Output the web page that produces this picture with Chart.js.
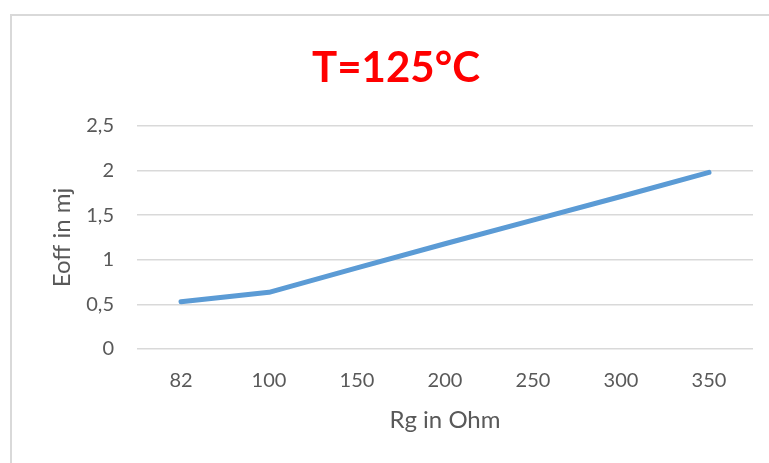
<!DOCTYPE html>
<html>
<head>
<meta charset="utf-8">
<script src="https://cdn.jsdelivr.net/npm/chart.js@4.4.1/dist/chart.umd.min.js"></script>
<style>
  html, body { margin: 0; padding: 0; background: #ffffff; overflow: hidden; }
  #wrap { position: relative; width: 769px; height: 463px; overflow: hidden; }
  #frame { position: absolute; left: 10px; top: 14px; width: 800px; height: 520px;
           border: 2px solid #d9d9d9; box-sizing: border-box; }
  canvas { position: absolute; left: 0; top: 0; }
</style>
</head>
<body>
<div id="wrap">
  <div id="frame"></div>
  <canvas id="chart" width="769" height="463"></canvas>
</div>
<script>
// Gate resistance categories (Ohm)
const categories = ['82', '100', '150', '200', '250', '300', '350'];
// Turn-off energy at 125 °C (mJ)
const eoff = [0.53, 0.635, 0.91, 1.18, 1.445, 1.71, 1.98];
// Value axis range
const yMin = 0;
const yMax = 2.5;
const yStep = 0.5;

const chartTitle = 'T=125°C';
const xTitle = 'Rg in Ohm';
const yTitle = 'Eoff in mj';

const textGrey = '#595959';
const gridGrey = '#d9d9d9';

new Chart(document.getElementById('chart'), {
  type: 'line',
  data: {
    labels: categories,
    datasets: [{
      label: 'Eoff',
      data: eoff,
      borderColor: '#5b9bd5',
      backgroundColor: '#5b9bd5',
      borderWidth: 5,
      borderCapStyle: 'round',
      borderJoinStyle: 'round',
      pointRadius: 0,
      pointHoverRadius: 0,
      tension: 0,
      fill: false
    }]
  },
  options: {
    responsive: false,
    animation: false,
    devicePixelRatio: 1,
    layout: { padding: { left: 39, right: 16, top: 0, bottom: 0 } },
    plugins: {
      legend: { display: false },
      tooltip: { enabled: false },
      title: {
        display: true,
        text: chartTitle,
        color: '#ff0000',
        font: { family: 'Lato', size: 42, weight: 'bold', lineHeight: 1.2 },
        padding: { top: 43, bottom: 32.6 }
      }
    },
    scales: {
      x: {
        offset: true,
        grid: { display: false, drawTicks: false },
        border: { display: false },
        ticks: {
          color: textGrey,
          font: { family: 'Lato', size: 20, lineHeight: 1.2 },
          padding: 20,
          maxRotation: 0,
          autoSkip: false
        },
        title: {
          display: true,
          text: xTitle,
          color: textGrey,
          font: { family: 'Lato', size: 24, lineHeight: 1.2 },
          padding: { top: 0, bottom: 28.6 }
        },
        afterFit: (scale) => { scale.height = 114; }
      },
      y: {
        min: yMin,
        max: yMax,
        grid: { color: gridGrey, lineWidth: 1.5, drawTicks: false },
        border: { display: false },
        ticks: {
          stepSize: yStep,
          color: textGrey,
          font: { family: 'Lato', size: 20, lineHeight: 1.2 },
          padding: 23,
          callback: (v) => String(v).replace('.', ',')
        },
        title: {
          display: true,
          text: yTitle,
          color: textGrey,
          font: { family: 'Lato', size: 24, lineHeight: 1.2 },
          padding: { top: 8.6, bottom: 0 }
        },
        afterFit: (scale) => { scale.width = 98; }
      }
    }
  }
});
</script>
</body>
</html>
